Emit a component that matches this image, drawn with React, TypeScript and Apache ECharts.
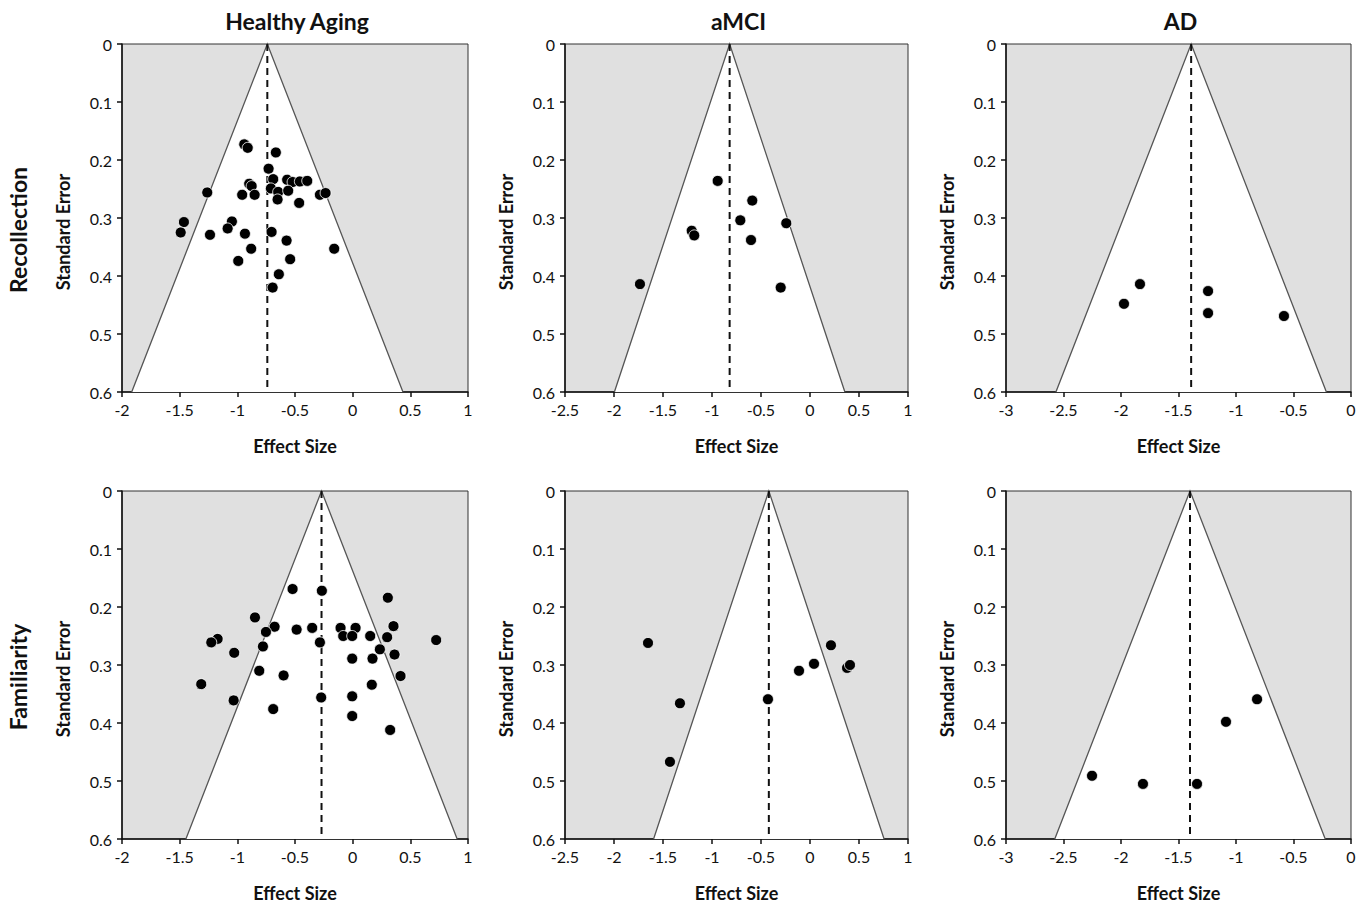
import React, { useEffect, useRef } from "react";
import * as echarts from "echarts";

// ---- data: [effect size, standard error] ----
const HA_REC: number[][] = [
  [-0.94, 0.173], [-0.91, 0.179], [-0.666, 0.187], [-0.729, 0.215], [-0.689, 0.233],
  [-0.568, 0.234], [-0.521, 0.238], [-0.458, 0.237], [-0.394, 0.236], [-0.897, 0.241],
  [-0.876, 0.245], [-0.709, 0.249], [-0.646, 0.255], [-0.559, 0.253], [-1.261, 0.256],
  [-0.958, 0.26], [-0.85, 0.26], [-0.651, 0.268], [-0.284, 0.26], [-0.235, 0.257],
  [-0.464, 0.274], [-1.463, 0.307], [-1.491, 0.325], [-1.237, 0.329], [-1.047, 0.306],
  [-1.084, 0.318], [-0.934, 0.327], [-0.703, 0.324], [-0.573, 0.339], [-0.88, 0.353],
  [-0.16, 0.353], [-0.542, 0.371], [-0.992, 0.374], [-0.64, 0.397], [-0.694, 0.42],
];
const AMCI_REC: number[][] = [
  [-0.942, 0.236], [-0.589, 0.27], [-0.711, 0.304], [-0.242, 0.309], [-1.207, 0.322],
  [-1.181, 0.33], [-0.602, 0.338], [-1.735, 0.414], [-0.299, 0.42],
];
const AD_REC: number[][] = [
  [-1.974, 0.448], [-1.835, 0.414], [-1.243, 0.426], [-1.243, 0.464], [-0.583, 0.469],
];
const HA_FAM: number[][] = [
  [-0.521, 0.169], [-0.267, 0.172], [0.305, 0.184], [-0.847, 0.218], [-0.677, 0.234],
  [-0.752, 0.243], [-0.486, 0.239], [-0.351, 0.236], [-0.105, 0.236], [0.025, 0.236],
  [0.354, 0.233], [-0.082, 0.25], [-0.004, 0.25], [0.152, 0.25], [0.299, 0.252],
  [-1.171, 0.255], [-1.226, 0.261], [-0.284, 0.261], [0.724, 0.257], [-0.778, 0.268],
  [0.236, 0.273], [-1.027, 0.279], [0.363, 0.282], [-0.004, 0.289], [0.172, 0.289],
  [-0.81, 0.31], [-0.599, 0.318], [0.415, 0.319], [-1.313, 0.333], [0.166, 0.334],
  [-0.273, 0.356], [-0.004, 0.354], [-1.032, 0.361], [-0.689, 0.376], [-0.004, 0.388],
  [0.325, 0.412],
];
const AMCI_FAM: number[][] = [
  [-1.653, 0.262], [-1.327, 0.366], [-1.429, 0.467], [-0.429, 0.359], [-0.112, 0.31],
  [0.041, 0.298], [0.214, 0.266], [0.378, 0.305], [0.408, 0.3],
];
const AD_FAM: number[][] = [
  [-2.252, 0.491], [-1.809, 0.505], [-1.339, 0.505], [-1.087, 0.398], [-0.817, 0.359],
];

const MEANS = [-0.74, -0.82, -1.39, -0.27, -0.42, -1.4];
const X_MIN = [-2, -2.5, -3];
const X_MAX = [1, 1, 0];
const SE_MAX = 0.6;
const COL_TITLES = ["Healthy Aging", "aMCI", "AD"];
const ROW_TITLES = ["Recollection", "Familiarity"];
const X_NAME = "Effect Size";
const Y_NAME = "Standard Error";

const PANEL_DATA = [HA_REC, AMCI_REC, AD_REC, HA_FAM, AMCI_FAM, AD_FAM];

// layout
const COL_LEFT = [122, 565, 1006];
const COL_WIDTH = [346, 343, 345];
const ROW_TOP = [44, 491];
const ROW_HEIGHT = 348;
const FONT = "Lato, 'Open Sans', sans-serif";

export default function App() {
  const ref = useRef<HTMLDivElement>(null);
  useEffect(() => {
    if (!ref.current) return;
    const chart = echarts.init(ref.current, undefined, { renderer: "svg" });
    const grid: any[] = [];
    const xAxis: any[] = [];
    const yAxis: any[] = [];
    const series: any[] = [];
    const graphic: any[] = [];
    for (let i = 0; i < 6; i++) {
      const col = i % 3;
      const row = Math.floor(i / 3);
      grid.push({
        left: COL_LEFT[col],
        top: ROW_TOP[row],
        width: COL_WIDTH[col],
        height: ROW_HEIGHT,
        show: true,
        backgroundColor: "#e0e0e0",
        borderColor: "#333",
        borderWidth: 1,
      });
      xAxis.push({
        type: "value",
        gridIndex: i,
        min: X_MIN[col],
        max: X_MAX[col],
        interval: 0.5,
        position: "bottom",
        name: X_NAME,
        nameLocation: "middle",
        nameGap: 45,
        nameTextStyle: { fontFamily: FONT, fontWeight: "bold", fontSize: 18, color: "#111" },
        axisLine: { show: true, onZero: false, lineStyle: { color: "#111", width: 1.5 } },
        axisTick: { show: true, inside: false, length: 5, lineStyle: { color: "#111", width: 1.5 } },
        axisLabel: { color: "#111", fontSize: 16, fontFamily: FONT, margin: 9 },
        splitLine: { show: false },
      });
      yAxis.push({
        type: "value",
        gridIndex: i,
        inverse: true,
        min: 0,
        max: SE_MAX,
        interval: 0.1,
        axisLine: { show: true, onZero: false, lineStyle: { color: "#111", width: 1.5 } },
        axisTick: { show: true, inside: false, length: 5, lineStyle: { color: "#111", width: 1.5 } },
        axisLabel: { color: "#111", fontSize: 16, fontFamily: FONT, margin: 10 },
        splitLine: { show: false },
      });
      graphic.push({
        type: "text",
        x: COL_LEFT[col] - 59,
        y: ROW_TOP[row] + ROW_HEIGHT / 2 + 14,
        rotation: Math.PI / 2,
        style: {
          text: Y_NAME,
          fontFamily: FONT,
          fontWeight: "bold",
          fontSize: 18,
          fill: "#111",
          textAlign: "center",
          textVerticalAlign: "middle",
        },
      });
      const mean = MEANS[i];
      series.push({
        type: "custom",
        xAxisIndex: i,
        yAxisIndex: i,
        z: 1,
        silent: true,
        data: [[mean, SE_MAX]],
        renderItem: (params: any, api: any) => {
          const m = api.value(0);
          const s = api.value(1);
          const apex = api.coord([m, 0]);
          const l = api.coord([m - 1.96 * s, s]);
          const r = api.coord([m + 1.96 * s, s]);
          return {
            type: "group",
            children: [
              { type: "polygon", shape: { points: [apex, l, r] }, style: { fill: "#ffffff" } },
              {
                type: "polyline",
                shape: { points: [l, apex, r] },
                style: { stroke: "#555", lineWidth: 1.3, fill: null },
              },
            ],
          };
        },
      });
      series.push({
        type: "line",
        xAxisIndex: i,
        yAxisIndex: i,
        z: 2,
        silent: true,
        symbol: "none",
        data: [[mean, 0], [mean, SE_MAX]],
        lineStyle: { color: "#111", width: 2, type: [7, 5] },
      });
      series.push({
        type: "scatter",
        xAxisIndex: i,
        yAxisIndex: i,
        z: 3,
        symbolSize: 11,
        data: PANEL_DATA[i],
        itemStyle: { color: "#000", borderColor: "#fff", borderWidth: 0.8, opacity: 1 },
      });
    }
    COL_TITLES.forEach((t, c) => {
      graphic.push({
        type: "text",
        x: COL_LEFT[c] + COL_WIDTH[c] / 2 + 2,
        y: 21,
        style: {
          text: t,
          fontFamily: FONT,
          fontWeight: "bold",
          fontSize: 23,
          fill: "#111",
          textAlign: "center",
          textVerticalAlign: "middle",
        },
      });
    });
    ROW_TITLES.forEach((t, r) => {
      graphic.push({
        type: "text",
        x: 18,
        y: ROW_TOP[r] + ROW_HEIGHT / 2 + 12,
        rotation: Math.PI / 2,
        style: {
          text: t,
          fontFamily: FONT,
          fontWeight: "bold",
          fontSize: 23,
          fill: "#111",
          textAlign: "center",
          textVerticalAlign: "middle",
        },
      });
    });
    chart.setOption({
      animation: false,
      backgroundColor: "#ffffff",
      grid,
      xAxis,
      yAxis,
      series,
      graphic,
    });
    return () => chart.dispose();
  }, []);
  return (
    <div
      ref={ref}
      style={{ position: "fixed", left: 0, top: 0, width: 1370, height: 908 }}
    />
  );
}
